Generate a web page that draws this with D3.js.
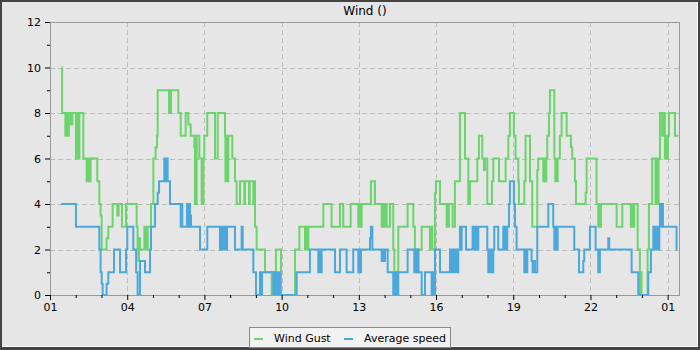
<!DOCTYPE html>
<html><head><meta charset="utf-8">
<script src="https://cdn.jsdelivr.net/npm/d3@7"></script>
<style>html,body{margin:0;padding:0;background:#444;} svg{display:block;}</style>
</head><body><svg id="c" width="700" height="350"></svg>
<script>
// time in hours since day 01 00:00
const xTickHours = [0,72,144,216,288,360,432,504,576];
const xTickLabels = ["01","04","07","10","13","16","19","22","01"];
const xMinorHours = d3.range(0, 588, 24);
const yTicks = [0,2,4,6,8,10,12];
const yMinor = [1,3,5,7,9,11];
const seriesNames = ["Wind Gust","Average speed"];
const seriesColors = ["#6cd46c","#4ba8dc"];

const windGust = [[10.9,10],[11.3,8],[14.3,7],[15.5,8],[16.2,7],[16.8,8],[17.2,7],[17.6,8],[19.6,7.5],[20.8,8],[24.2,6],[24.9,8],[25.5,6],[26.1,8],[26.7,6],[27.4,8],[31.1,6],[34.2,5],[35.1,6],[36.1,5],[37.0,6],[37.5,5],[37.9,6],[44.1,5],[46.0,4],[47.2,3.5],[48.2,2],[52.8,2.5],[54.4,3],[58.4,4],[62.8,3.5],[64.0,4],[67.1,3],[70.9,4],[80.8,3],[81.7,2],[82.4,1.5],[83.0,2.5],[83.9,2],[88.0,3],[89.5,2],[91.1,3],[94.2,4],[96.4,6],[98.5,6.5],[99.8,7],[100.4,9],[111.0,8],[111.6,9],[112.2,8],[112.8,9],[119.7,8],[121.9,7],[126.5,8],[129.0,7.5],[131.2,7],[134.6,6.5],[135.2,4],[135.8,7],[136.3,4],[136.8,7],[139.3,6],[141.4,4],[142.1,6],[142.6,4],[143.0,6],[143.9,7],[146.7,8],[153.9,6],[156.4,8],[163.2,7],[163.6,5],[164.1,7],[164.6,5],[165.1,7],[165.6,5],[166.3,7],[170.0,6],[172.5,5],[174.1,4],[177.2,5],[181.2,4],[181.8,5],[185.6,4],[186.2,5],[189.6,4],[190.2,5],[191.2,3],[192.7,2],[200.5,1],[206.7,0],[207.6,1],[208.6,0],[209.8,1],[210.7,2],[215.4,0],[228.5,2],[232.5,3],[237.8,2],[238.7,3],[239.6,2],[240.9,3],[254.9,4],[262.6,3],[270.4,4],[273.5,3],[280.4,4],[287.5,3],[288.4,4],[289.4,3],[290.6,4],[299.3,5],[303.0,4],[309.3,3],[310.2,4],[311.1,3],[312.4,4],[313.9,3],[317.0,4],[320.1,2],[321.1,1],[324.8,3],[333.5,4],[338.8,3],[340.3,2],[341.3,1],[342.2,2],[342.7,1],[343.5,2],[346.6,3],[354.3,2],[355.3,3],[356.5,2],[359.0,4.5],[359.9,5],[363.7,4],[369.9,3],[370.8,4],[371.4,3],[372.0,4],[375.5,3],[377.6,5],[382.3,8],[387.0,6],[390.1,4],[391.6,5],[398.5,6],[400.0,7],[403.1,6],[404.7,5.5],[405.6,6],[407.8,4],[412.1,5],[413.4,6],[418.7,5],[424.9,6],[427.4,7],[428.9,8],[432.6,7],[434.2,6],[436.7,5],[437.3,4],[442.3,5],[443.5,7],[447.6,5],[449.7,3],[454.4,5.5],[455.3,6],[460.0,5],[460.9,6],[461.9,5],[462.8,6],[463.7,7],[465.3,8],[466.2,9],[470.3,6],[471.2,5],[472.1,6],[472.6,5],[473.4,6],[475.5,7],[477.1,8],[481.8,7],[485.8,6.5],[487.0,6],[489.5,5],[490.5,4],[499.5,4.5],[500.4,6],[509.7,4],[511.3,3],[512.2,4],[513.1,3],[513.8,4],[528.4,3],[533.7,4],[541.7,3],[542.7,4],[543.6,3],[544.8,4],[548.0,2],[550.1,0],[551.1,1],[551.6,0],[557.3,2],[558.5,4],[561.6,6],[564.7,4],[565.7,6],[566.6,4],[567.5,6],[568.8,8],[570.9,7],[572.5,8],[573.4,6],[574.4,7],[575.3,6],[576.2,7],[577.2,8],[582.8,7],[585.9,7]];

const avgSpeed = [[10.3,4],[24.2,3],[46.0,2],[47.2,1],[48.2,0.5],[49.1,0],[52.8,0.5],[54.4,1],[59.7,2],[65.3,1],[70.9,2],[72.1,3],[77.7,2],[80.3,1],[81.7,0],[83.9,1.5],[88.6,1],[93.3,2],[94.2,3],[97.9,4],[100.4,4.5],[101.7,5],[106.6,6],[107.2,5],[107.9,6],[108.5,5],[109.1,6],[109.7,5],[111.9,4],[121.9,3],[122.5,4],[123.4,3],[127.8,4],[128.7,3],[129.6,4],[130.6,3.5],[131.5,3],[139.9,2],[146.7,3],[158.5,2],[159.5,3],[160.4,2],[161.3,3],[162.3,2],[163.2,3],[164.1,2],[165.1,3],[172.5,2],[178.7,3],[179.7,2],[189.6,1],[192.1,0],[195.8,1],[196.8,0],[197.7,1],[208.3,0],[209.8,1],[210.7,0],[211.7,1],[212.6,0],[213.5,1],[214.5,0],[230.0,1],[242.4,2],[250.2,1],[251.2,2],[252.1,1],[253.3,2],[265.8,1],[270.4,2],[276.6,1],[282.8,2],[287.5,1],[288.4,2],[289.4,1],[290.0,2],[298.4,2.5],[299.3,3],[300.6,2],[309.3,1.5],[310.2,2],[311.1,1.5],[312.4,2],[314.9,1],[320.1,0],[321.1,1],[322.0,0],[323.0,1],[323.9,0],[324.8,1],[333.5,2],[339.7,1],[340.7,2],[341.6,1],[342.5,2],[343.5,1],[346.6,0],[349.7,1],[355.9,0],[356.8,1],[357.7,0],[359.0,2],[363.7,1],[373.0,2],[373.9,1],[374.8,2],[375.8,1],[376.7,2],[377.6,1],[378.6,2],[379.5,1],[380.7,2],[382.3,3],[383.2,2],[383.9,3],[387.9,2],[394.1,3],[394.7,2],[395.4,3],[396.0,2],[396.6,3],[397.2,2],[397.8,3],[398.5,2],[399.4,3],[407.8,2],[408.7,1],[409.6,2],[410.6,1],[411.5,2],[412.4,1],[413.4,2],[414.3,3],[418.0,2],[422.7,3],[423.6,2],[424.6,3],[425.5,2],[426.4,3],[428.0,4],[428.9,5],[432.6,4],[433.6,3],[435.1,2],[442.3,1],[443.2,2],[444.1,1],[445.1,2],[449.1,1.5],[450.1,1],[451.0,1.5],[452.2,1],[454.4,3],[464.7,4],[469.3,3],[470.3,2],[471.2,3],[472.1,2],[473.4,3],[488.9,2],[493.3,1],[497.3,1.5],[498.2,2],[503.5,3],[508.8,2],[511.3,1],[512.8,2],[520.6,2.5],[521.5,2],[542.4,1],[548.6,0],[557.9,1],[560.4,2],[562.6,3],[563.5,2],[564.4,3],[565.4,2],[566.3,3],[567.2,2],[568.2,3],[568.8,4],[569.7,3],[570.6,4],[571.6,3],[584.3,2],[584.9,2]];

const svg = d3.select("#c");
const W = 700, H = 350;
const m = {l:50, r:680, t:22, b:295};
const FONT = "DejaVu Sans, sans-serif";

// frame
svg.append("rect").attr("x",0).attr("y",0).attr("width",W).attr("height",H).attr("fill","#444");
svg.append("rect").attr("x",2).attr("y",2).attr("width",696).attr("height",345).attr("fill","#ffffff");
svg.append("rect").attr("x",2).attr("y",2).attr("width",695).attr("height",344).attr("fill","#e6e6e6");

const x = d3.scaleLinear().domain([0, 587.5]).range([m.l, m.r]);
const y = d3.scaleLinear().domain([0, 12]).range([m.b, m.t]);

// grid
const grid = svg.append("g");
grid.selectAll("line.gx").data(xTickHours.slice(1)).join("line")
  .attr("x1", d=>Math.round(x(d))+0.5).attr("x2", d=>Math.round(x(d))+0.5)
  .attr("y1", m.t).attr("y2", m.b)
  .attr("stroke","#bdbdbd").attr("stroke-width",1).attr("stroke-dasharray","5,3");
grid.selectAll("line.gy").data(yTicks.slice(1,-1)).join("line")
  .attr("y1", d=>Math.round(y(d))+0.5).attr("y2", d=>Math.round(y(d))+0.5)
  .attr("x1", m.l).attr("x2", m.r)
  .attr("stroke","#bdbdbd").attr("stroke-width",1).attr("stroke-dasharray","5,3");

// lines
const line = d3.line().x(d=>x(d[0])).y(d=>y(d[1])).curve(d3.curveStepAfter);
[windGust, avgSpeed].forEach((s,i)=>{
  svg.append("path").attr("d", line(s)).attr("fill","none")
    .attr("stroke", seriesColors[i]).attr("stroke-width",2)
    .attr("stroke-linejoin","miter");
});

// plot border
svg.append("rect").attr("x", m.l+0.5).attr("y", m.t+0.5)
  .attr("width", m.r-m.l-1).attr("height", m.b-m.t)
  .attr("fill","none").attr("stroke","#999").attr("stroke-width",1);

// axes
const xAxis = d3.axisBottom(x).tickValues(xTickHours).tickFormat((d,i)=>xTickLabels[i]).tickSize(5).tickPadding(3);
const gx = svg.append("g").attr("transform",`translate(0,${m.b})`).call(xAxis);
gx.select(".domain").remove();
const gxm = svg.append("g").attr("transform",`translate(0,${m.b})`)
  .call(d3.axisBottom(x).tickValues(xMinorHours.filter(h=>!xTickHours.includes(h))).tickFormat("").tickSize(3));
gxm.select(".domain").remove();

const yAxis = d3.axisLeft(y).tickValues(yTicks).tickFormat(d3.format("d")).tickSize(5).tickPadding(4);
const gy = svg.append("g").attr("transform",`translate(${m.l},0)`).call(yAxis);
gy.select(".domain").remove();
const gym = svg.append("g").attr("transform",`translate(${m.l},0)`)
  .call(d3.axisLeft(y).tickValues(yMinor).tickFormat("").tickSize(3));
gym.select(".domain").remove();

svg.selectAll(".tick line").attr("stroke","#000");
svg.selectAll(".tick text").attr("fill","#000").style("font-family",FONT).style("font-size","11px");

// title
svg.append("text").attr("x",(m.l+m.r)/2).attr("y",15).attr("text-anchor","middle")
  .style("font-family",FONT).style("font-size","12px").attr("fill","#000").text("Wind ()");

// legend
const lg = svg.append("g");
lg.append("rect").attr("x",249.5).attr("y",327.5).attr("width",201).attr("height",20)
  .attr("fill","#f2f2f2").attr("stroke","#888");
const legX = [254, 344];
seriesNames.forEach((n,i)=>{
  lg.append("line").attr("x1",legX[i]).attr("x2",legX[i]+9).attr("y1",339).attr("y2",339)
    .attr("stroke",seriesColors[i]).attr("stroke-width",2);
  lg.append("text").attr("x",legX[i]+20).attr("y",341.5)
    .style("font-family",FONT).style("font-size","11px").attr("fill","#000").text(n);
});
</script></body></html>
